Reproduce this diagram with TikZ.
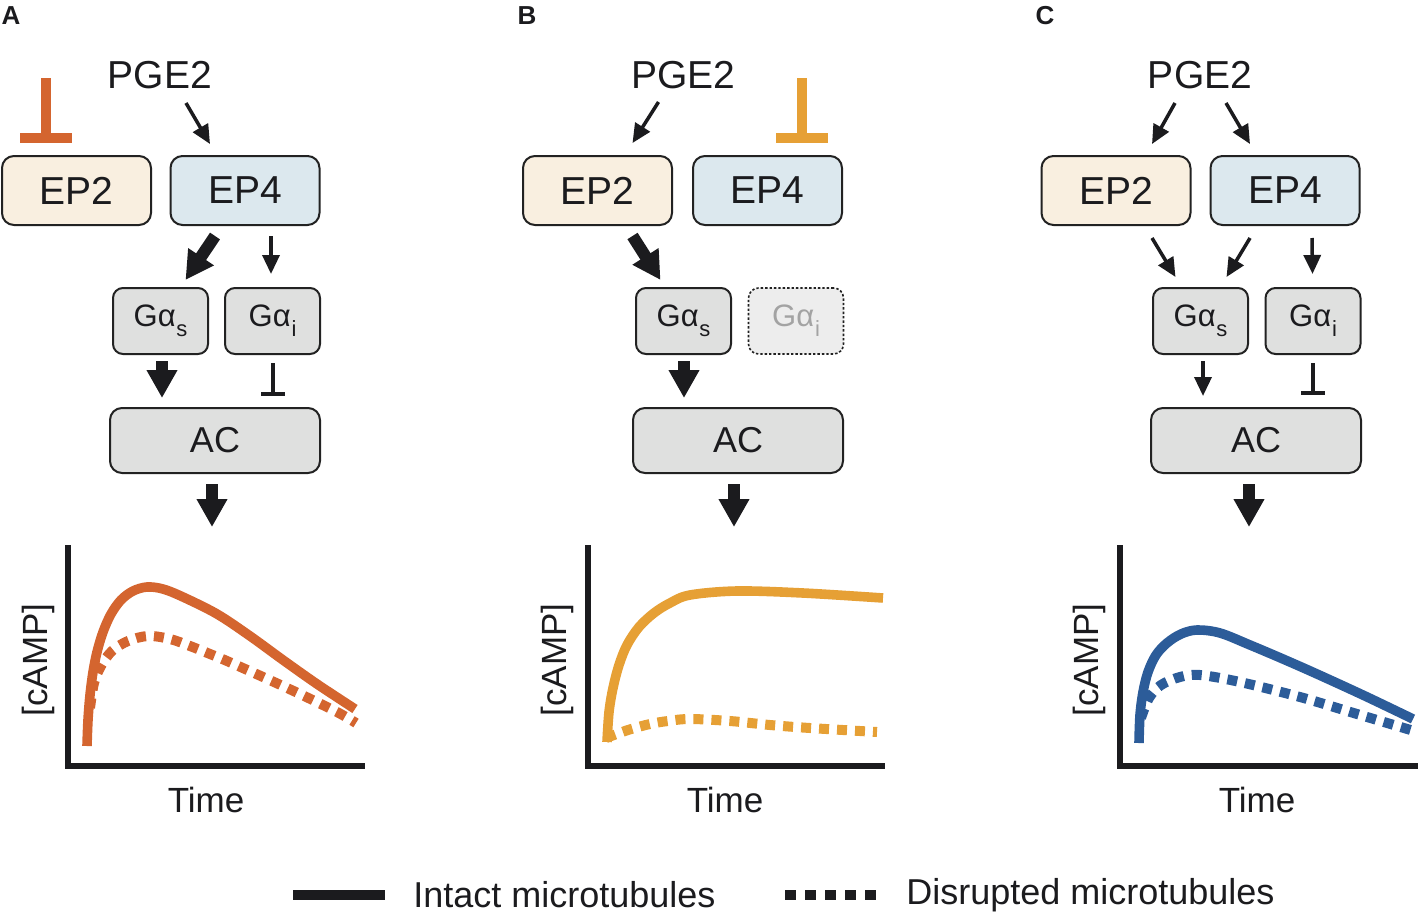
\documentclass[tikz,border=0pt]{standalone}
\usepackage{fontspec}
\setmainfont{Liberation Sans}
\usetikzlibrary{arrows.meta,calc}
\definecolor{oA}{HTML}{D4652F}
\definecolor{oB}{HTML}{E6A035}
\definecolor{bC}{HTML}{2C5C99}
\definecolor{ink}{HTML}{1B1B1E}
\definecolor{edge}{HTML}{222222}
\definecolor{epTwo}{HTML}{F9EFE0}
\definecolor{epFour}{HTML}{DCE8EE}
\definecolor{gfill}{HTML}{DFE0DF}
\definecolor{gpale}{HTML}{EDEDED}
\definecolor{gtext}{HTML}{A3A3A3}
\newcommand{\Gsub}[1]{G\kern0.01em α\kern0.02em\raisebox{-0.32em}{\fontsize{11}{11}\selectfont #1}}
\begin{document}
\begin{tikzpicture}[x=0.5pt,y=-0.5pt,
  box/.style={draw=edge,line width=1pt,rounded corners=6pt,inner sep=0pt,text=ink},
  ep/.style={box,minimum width=74.5pt,minimum height=34.5pt,font=\fontsize{19.5}{20}\selectfont},
  gbox/.style={box,minimum width=47.5pt,minimum height=33pt,fill=gfill,rounded corners=5pt,font=\fontsize{15.5}{16}\selectfont},
  acbox/.style={box,minimum width=105pt,minimum height=32.5pt,fill=gfill,font=\fontsize{18}{18}\selectfont},
  pge/.style={inner sep=0pt,text=ink,font=\fontsize{19.5}{20}\selectfont},
  axlab/.style={inner sep=0pt,text=ink,font=\fontsize{17.5}{18}\selectfont},
  panel/.style={inner sep=0pt,text=ink,font=\fontsize{13}{13}\selectfont\bfseries},
  legtext/.style={inner sep=0pt,anchor=west,text=ink,font=\fontsize{18}{18}\selectfont},
  tarr/.style={draw=ink,line width=1.75pt,-{Triangle[width=8.5pt,length=9.5pt]}},
  barr/.style={draw=ink,line width=6pt,-{Triangle[width=14.5pt,length=14pt]}},
  inh/.style={draw=ink,line width=1.6pt},
  bigT/.style={line width=5pt},
  axis/.style={draw=ink,line width=3pt,line join=miter},
  solidc/.style={line width=4.8pt,line cap=butt,line join=round},
  dashc/.style={line width=5pt,dash pattern=on 5pt off 4pt},
]
\useasboundingbox (0,0) rectangle (1418,921);

% ---------------- Panel A ----------------
\node[panel] (labA) at (11,16) {A};
\node[pge] (pA) at (160,75) {PGE2};
\node[ep,fill=epTwo] (ep2A) at (76.5,190.5) {EP2};
\node[ep,fill=epFour] (ep4A) at (245,190.5) {EP4};
\node[gbox] (gsA) at (160.5,321) {\Gsub{s}};
\node[gbox] (giA) at (272.5,321) {\Gsub{i}};
\node[acbox] (acA) at (215,440.5) {AC};
\coordinate (tA) at (46,78);
\coordinate (tAb) at (46,138);
\draw[oA,bigT] (tA) -- (tAb);
\draw[oA,bigT] ($(tAb)+(-26,0)$) -- ($(tAb)+(26,0)$);
\draw[tarr] ($(pA)+(26,28)$) -- ($(ep4A.north)+(-35,-11)$);
\draw[barr] ($(ep4A.south)+(-30,10)$) -- ($(gsA.north)+(25,-7)$);
\draw[tarr] ($(ep4A.south)+(26,10)$) -- ($(giA.north)+(-1.5,-13)$);
\draw[barr] ($(gsA.south)+(1.5,6)$) -- ($(acA.north)+(-53,-9)$);
\draw[inh] ($(giA.south)+(0.5,8)$) -- ($(acA.north)+(58,-13)$);
\draw[inh] ($(acA.north)+(46,-13)$) -- ($(acA.north)+(70,-13)$);
\coordinate (endA) at (212,527);
\draw[barr] ($(acA.south)+(-3,10)$) -- (endA);
\draw[axis] (68,545) |- (365,766);
\node[axlab,rotate=90] (yA) at (38,660) {[cAMP]};
\node[axlab] (xA) at (206,800) {Time};
\draw[oA,solidc] plot[smooth,tension=0.55] coordinates {(87,746) (88,720) (90,695) (93,672) (97,652) (103,632) (111,614) (121,600) (133,591) (147,587) (163,589) (183,597) (217,614) (250,636) (283,660) (317,684) (355,709)};
\draw[oA,dashc] plot[smooth,tension=0.55] coordinates {(90,708) (94,683) (101,666) (112,651) (128,641) (148,636) (170,639) (190,646) (210,654) (227,661) (263,677) (300,694) (337,712) (356,723)};

% ---------------- Panel B ----------------
\node[panel] (labB) at (527,16) {B};
\node[pge] (pB) at (683.5,75) {PGE2};
\node[ep,fill=epTwo] (ep2B) at (597.5,190.5) {EP2};
\node[ep,fill=epFour] (ep4B) at (767.5,190.5) {EP4};
\node[gbox] (gsB) at (683.5,321) {\Gsub{s}};
\node[box,minimum width=47.5pt,minimum height=33pt,rounded corners=5pt,fill=gpale,draw=edge,line width=0.8pt,dash pattern=on 1.2pt off 1pt,text=gtext,font=\fontsize{15.5}{16}\selectfont] (giB) at (796,321) {\Gsub{i}};
\node[acbox] (acB) at (738,440.5) {AC};
\coordinate (tB) at (802,78);
\coordinate (tBb) at (802,138);
\draw[oB,bigT] (tB) -- (tBb);
\draw[oB,bigT] ($(tBb)+(-26,0)$) -- ($(tBb)+(26,0)$);
\draw[tarr] ($(pB)+(-25,27)$) -- ($(ep2B.north)+(35,-12)$);
\draw[barr] ($(ep2B.south)+(35,10)$) -- ($(gsB.north)+(-23,-7)$);
\draw[barr] ($(gsB.south)+(0.5,6)$) -- ($(acB.north)+(-54,-9)$);
\coordinate (endB) at (734,527);
\draw[barr] ($(acB.south)+(-4,10)$) -- (endB);
\draw[axis] (588,545) |- (885,766);
\node[axlab,rotate=90] (yB) at (557,660) {[cAMP]};
\node[axlab] (xB) at (725,800) {Time};
\draw[oB,solidc] plot[smooth,tension=0.55] coordinates {(607,742) (609,712) (613,688) (619,665) (627,645) (639,627) (654,613) (670,603) (690,595) (737,591) (803,593) (883,598)};
\draw[oB,dashc] plot[smooth,tension=0.55] coordinates {(606,738) (628,730) (650,724) (668,721) (690,719) (730,721) (770,725) (810,728) (877,732)};

% ---------------- Panel C ----------------
\node[panel] (labC) at (1045,16) {C};
\node[pge] (pC) at (1200,75) {PGE2};
\node[ep,fill=epTwo] (ep2C) at (1116,190.5) {EP2};
\node[ep,fill=epFour] (ep4C) at (1285,190.5) {EP4};
\node[gbox] (gsC) at (1200.5,321) {\Gsub{s}};
\node[gbox] (giC) at (1313,321) {\Gsub{i}};
\node[acbox] (acC) at (1256,440.5) {AC};
\draw[tarr] ($(pC)+(-25,28)$) -- ($(ep2C.north)+(36,-11)$);
\draw[tarr] ($(pC)+(26,28)$) -- ($(ep4C.north)+(-35,-11)$);
\draw[tarr] ($(ep2C.south)+(36,12)$) -- ($(gsC.north)+(-25,-10)$);
\draw[tarr] ($(ep4C.south)+(-35,12)$) -- ($(gsC.north)+(26,-10)$);
\draw[tarr] ($(ep4C.south)+(27,12)$) -- ($(giC.north)+(-0.5,-13)$);
\draw[tarr] ($(gsC.south)+(2.5,6)$) -- ($(acC.north)+(-53,-11)$);
\draw[inh] ($(giC.south)+(0,8)$) -- ($(acC.north)+(57,-14)$);
\draw[inh] ($(acC.north)+(45,-14)$) -- ($(acC.north)+(69,-14)$);
\coordinate (endC) at (1249,527);
\draw[barr] ($(acC.south)+(-7,10)$) -- (endC);
\draw[axis] (1120,545) |- (1418,766);
\node[axlab,rotate=90] (yC) at (1089,660) {[cAMP]};
\node[axlab] (xC) at (1257,800) {Time};
\draw[bC,solidc] plot[smooth,tension=0.55] coordinates {(1139,743) (1140,715) (1143,692) (1148,672) (1156,655) (1167,643) (1181,634) (1197,630) (1220,633) (1250,645) (1283,659) (1317,674) (1365,696) (1413,719)};
\draw[bC,dashc] plot[smooth,tension=0.55] coordinates {(1141,718) (1149,698) (1161,685) (1180,677) (1200,675) (1240,682) (1300,697) (1357,714) (1414,731)};

% ---------------- Legend ----------------
\coordinate (l1a) at (293,895);
\coordinate (l1b) at (385,895);
\draw[ink,line width=5pt] (l1a) -- (l1b);
\node[legtext] (t1) at (413,895) {Intact microtubules};
\coordinate (l2a) at (785,895);
\coordinate (l2b) at (878,895);
\draw[ink,line width=5pt,dash pattern=on 5.5pt off 4.5pt] (l2a) -- (l2b);
\node[legtext] (t2) at (906,895) {Disrupted microtubules};
\end{tikzpicture}
\end{document}
